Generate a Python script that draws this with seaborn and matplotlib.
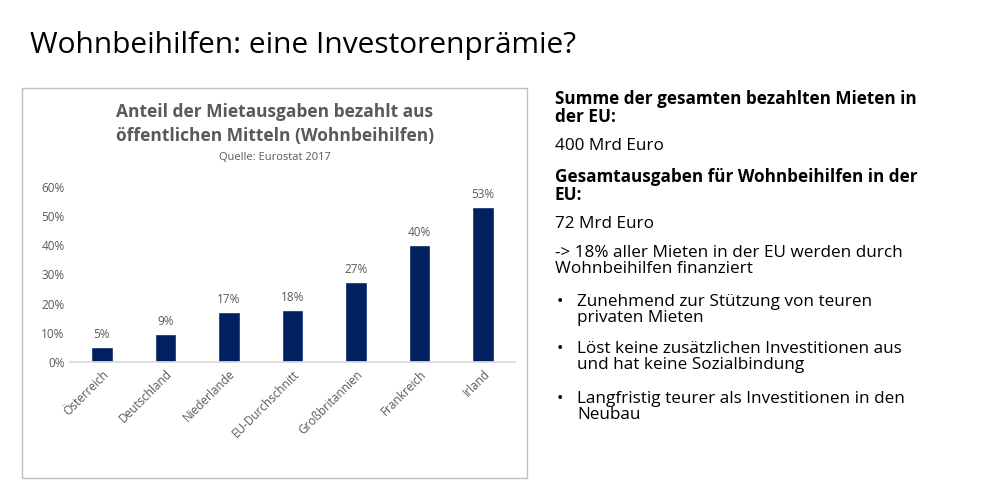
import matplotlib
matplotlib.use("Agg")
import matplotlib.pyplot as plt
import seaborn as sns
import pandas as pd
from matplotlib.patches import Rectangle

countries = ["Österreich", "Deutschland", "Niederlande", "EU-Durchschnitt",
             "Großbritannien", "Frankreich", "Irland"]
shares = [5.2, 9.5, 17.3, 17.8, 27.4, 40.0, 53.2]
labels = ["5%", "9%", "17%", "18%", "27%", "40%", "53%"]
yticks = [0, 10, 20, 30, 40, 50, 60]

sns.set_theme(style="white")
plt.rcParams['font.family'] = ['Open Sans', 'DejaVu Sans']

fig = plt.figure(figsize=(10, 4.99), dpi=100)
fig.patch.set_facecolor("white")

def py(p):  # pixel y from top -> fig fraction
    return 1 - p / 499

fig.text(0.03, py(46), "Wohnbeihilfen: eine Investorenprämie?", fontsize=21.5, va="center", color="black")

fig.add_artist(Rectangle((0.022, py(478)), 0.505, (478-88)/499, transform=fig.transFigure,
                         fill=False, edgecolor="#bfbfbf", linewidth=1))

fig.text(0.275, py(124), "Anteil der Mietausgaben bezahlt aus\nöffentlichen Mitteln (Wohnbeihilfen)",
         ha="center", va="center", fontsize=12.5, fontweight="bold", color="#595959", linespacing=1.45)
fig.text(0.275, py(158), "Quelle: Eurostat 2017", ha="center", va="center", fontsize=8, color="#595959")

ax = fig.add_axes([0.07, py(362), 0.445, (362-187)/499])
df = pd.DataFrame({"c": countries, "v": shares})
sns.barplot(data=df, x="c", y="v", color="#002060", width=0.34, ax=ax, saturation=1)
for i, (v, l) in enumerate(zip(shares, labels)):
    ax.text(i, v + 2, l, ha="center", va="bottom", fontsize=8.5, color="#595959")
ax.set_ylim(0, 60)
ax.set_yticks(yticks)
ax.set_yticklabels([f"{t}%" for t in yticks], fontsize=8.5, color="#595959")
ax.set_xticklabels(countries, rotation=45, ha="right", rotation_mode="anchor", fontsize=8.5, color="#595959")
ax.set_xlabel(""); ax.set_ylabel("")
for s in ["top", "right", "left"]:
    ax.spines[s].set_visible(False)
ax.spines["bottom"].set_color("#d9d9d9")
ax.tick_params(axis="both", length=0, pad=4)

x0 = 0.555
fs = 12.3
items = [
    (90, "Summe der gesamten bezahlten Mieten in\nder EU:", "bold"),
    (138, "400 Mrd Euro", "normal"),
    (168, "Gesamtausgaben für Wohnbeihilfen in der\nEU:", "bold"),
    (216, "72 Mrd Euro", "normal"),
    (245, "-> 18% aller Mieten in der EU werden durch\nWohnbeihilfen finanziert", "normal"),
]
for y, t, w in items:
    fig.text(x0, py(y), t, fontsize=fs, fontweight=w, va="top", color="black", linespacing=1.0)
bullets = [
    (294, "Zunehmend zur Stützung von teuren\nprivaten Mieten"),
    (341, "Löst keine zusätzlichen Investitionen aus\nund hat keine Sozialbindung"),
    (391, "Langfristig teurer als Investitionen in den\nNeubau"),
]
for y, t in bullets:
    fig.text(x0 + 0.002, py(y), "•", fontsize=fs, va="top", color="black")
    fig.text(x0 + 0.022, py(y), t, fontsize=fs, va="top", color="black", linespacing=1.0)

fig.savefig("out.png", dpi=100, facecolor="white")
